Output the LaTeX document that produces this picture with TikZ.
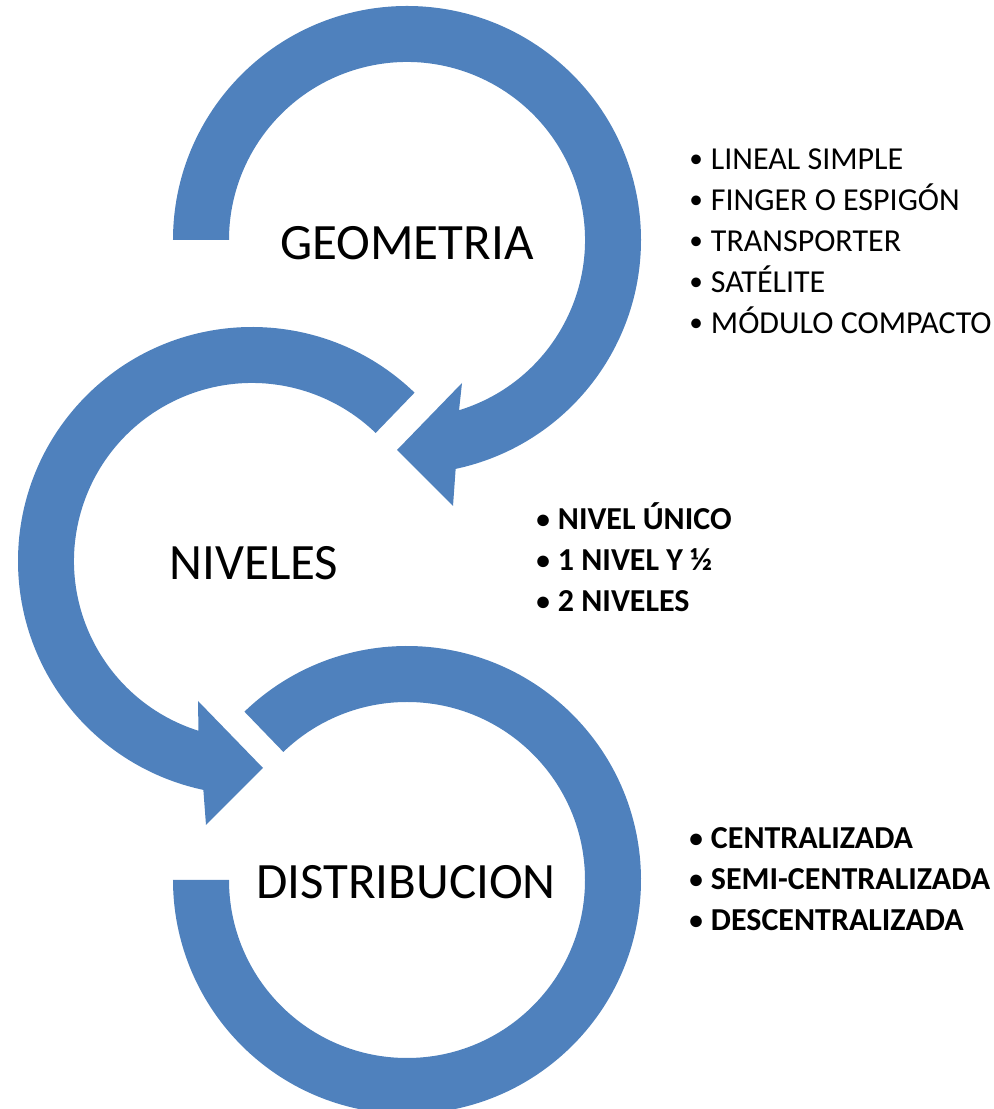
\documentclass[tikz,border=0pt]{standalone}
\usepackage{fontspec}
\setmainfont{Carlito}
\usetikzlibrary{calc}
\definecolor{ringblue}{HTML}{4F81BD}
\newcommand{\bulletmark}{\makebox[12.3pt][l]{\raisebox{1.1pt}{\fontsize{15.5}{15.5}\selectfont\textbullet}}}

\begin{document}
\begin{tikzpicture}[scale=0.2,
   ring/.style={fill=ringblue},
   title/.style={font=\fontsize{29}{35}\selectfont},
   listitem/.style={font=\fontsize{18.2}{23}\selectfont,anchor=base west,inner sep=0pt}]
   \useasboundingbox (0,0) rectangle (99.3,110.9);
   \coordinate (g) at (40.7,86.9);
   \coordinate (n) at (25.2,54.8);
   \coordinate (d) at (40.7,22.9);
   % the three rings
   \fill[ring] ($(g)+(180:23.4)$) arc[start angle=180,end angle=-78,radius=23.4]
      -- (45.3,60.3) -- (39.7,65.9) -- (46.2,72.6)
      -- ($(g)+(-73:17.8)$) arc[start angle=-73,end angle=180,radius=17.8] -- cycle;
   \fill[ring] ($(n)+(46:23.4)$) arc[start angle=46,end angle=258,radius=23.4]
      -- (20.6,28.4) -- (26.3,34.1) -- (19.8,40.8)
      -- ($(n)+(252.5:17.8)$) arc[start angle=252.5,end angle=46,radius=17.8] -- cycle;
   \fill[ring] ($(d)+(134:23.4)$) arc[start angle=134,end angle=-180,radius=23.4]
      -- ($(d)+(180:17.8)$) arc[start angle=-180,end angle=134,radius=17.8] -- cycle;
   % titles
   \node[title] (geom) at (40.7,86.6) {GEOMETRIA};
   \node[title] (niv) at (25.4,54.6) {NIVELES};
   \node[title] (dist) at (40.6,22.7) {DISTRIBUCION};
   % lists
   \foreach \t [count=\i from 0] in {LINEAL SIMPLE,FINGER O ESPIGÓN,TRANSPORTER,SATÉLITE,MÓDULO COMPACTO}
      \node[listitem] (geom\i) at (68.9,{93.95-4.1*\i}) {\bulletmark\t};
   \foreach \t [count=\i from 0] in {NIVEL ÚNICO,1 NIVEL Y ½,2 NIVELES}
      \node[listitem,font=\fontsize{18.2}{23}\selectfont\bfseries] (niv\i) at (53.6,{57.9-4.1*\i}) {\bulletmark\t};
   \foreach \t [count=\i from 0] in {CENTRALIZADA,SEMI-CENTRALIZADA,DESCENTRALIZADA}
      \node[listitem,font=\fontsize{18.2}{23}\selectfont\bfseries] (dist\i) at (68.9,{26.0-4.1*\i}) {\bulletmark\t};
\end{tikzpicture}
\end{document}
